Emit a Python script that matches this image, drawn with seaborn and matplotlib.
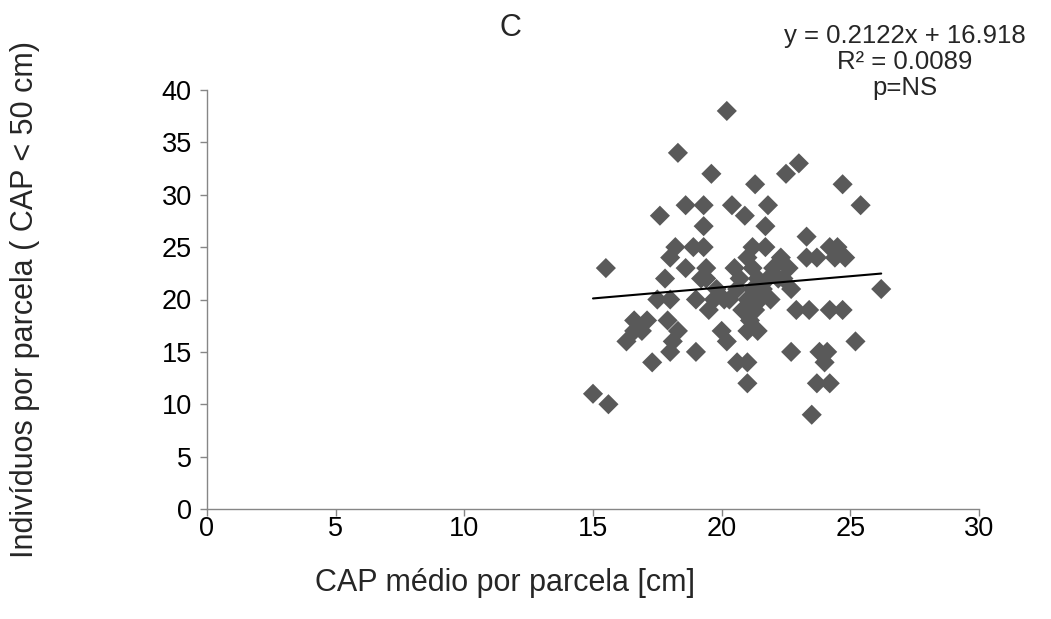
import matplotlib
matplotlib.use("Agg")
import matplotlib.pyplot as plt
import seaborn as sns
import numpy as np
import pandas as pd

cap_medio = [15.0, 15.6, 15.5, 16.3, 16.6, 16.9, 17.1, 17.3, 17.5, 17.6, 17.8, 18.0, 18.1, 17.9, 18.0, 18.0,
             18.3, 18.2, 18.3, 18.6, 18.6, 18.9, 19.0, 19.0, 19.2, 19.3, 19.3, 19.3, 19.4, 19.5, 19.6, 19.7,
             19.4, 20.2, 20.0, 20.2, 20.3, 20.4, 20.5, 20.6, 20.7, 20.9, 21.0, 21.0, 21.0, 21.0, 21.2, 21.2,
             21.3, 21.4, 21.5, 21.5, 21.4, 21.7, 21.7, 21.8, 21.9, 22.2, 22.3, 22.5, 22.6, 22.7, 22.7, 22.9,
             23.0, 23.3, 23.3, 23.4, 23.5, 23.7, 23.8, 23.7, 24.0, 24.1, 24.2, 24.2, 24.2, 24.4, 24.5, 24.7,
             24.7, 24.8, 25.2, 25.4, 26.2,
             20.8, 21.1, 21.0, 21.3, 20.6, 21.6, 21.8, 20.1, 19.8, 21.2, 22.0, 22.4, 16.6]
individuos = [11, 10, 23, 16, 18, 17, 18, 14, 20, 28, 22, 15, 16, 18, 20, 24,
              34, 25, 17, 29, 23, 25, 15, 20, 22, 29, 25, 27, 23, 19, 32, 20,
              22, 38, 17, 16, 20, 29, 23, 14, 22, 28, 14, 12, 17, 24, 25, 23,
              31, 17, 20, 21, 22, 27, 25, 29, 20, 22, 24, 32, 23, 15, 21, 19,
              33, 26, 24, 19, 9, 24, 15, 12, 14, 15, 12, 19, 25, 24, 25, 19,
              31, 24, 16, 29, 21,
              19, 18, 20, 19, 21, 21, 22, 20, 21, 21, 23, 22, 17]

slope = 0.2122
intercept = 16.918
r2_text = "R² = 0.0089"
p_text = "p=NS"
x_ticks = [0, 5, 10, 15, 20, 25, 30]
y_ticks = [0, 5, 10, 15, 20, 25, 30, 35, 40]

df = pd.DataFrame({"x": cap_medio, "y": individuos})

sns.set_theme(style="white")
plt.rcParams['font.family'] = ['Liberation Sans', 'DejaVu Sans']

fig = plt.figure(figsize=(10.51, 6.19), dpi=100)
ax = fig.add_axes([207/1051, 1 - 509/619, (979-207)/1051, (509-90)/619])

sns.scatterplot(data=df, x="x", y="y", marker="D", s=105, color="#595959",
                edgecolor="none", linewidth=0, ax=ax, zorder=2)

xl = np.array([min(cap_medio), max(cap_medio)])
sns.lineplot(x=xl, y=slope * xl + intercept, color="black", linewidth=1.5, ax=ax, zorder=3)

ax.set_xlim(0, 30)
ax.set_ylim(0, 40)
ax.set_xticks(x_ticks)
ax.set_yticks(y_ticks)
ax.tick_params(axis="both", labelsize=19.5, colors="#868686", labelcolor="black",
               length=5, width=1, direction="out")
ax.tick_params(axis="x", bottom=True, pad=0)
ax.tick_params(axis="y", left=True, pad=6)
for side in ["top", "right"]:
    ax.spines[side].set_visible(False)
for side in ["left", "bottom"]:
    ax.spines[side].set_color("#868686")
    ax.spines[side].set_linewidth(1)
ax.set_xlabel("")
ax.set_ylabel("")
ax.grid(False)

fig.text(505/1051, 1 - 583/619, "CAP médio por parcela [cm]", ha="center", va="center", fontsize=22)
fig.text(25/1051, 1 - 300/619, "Indivíduos por parcela ( CAP < 50 cm)", ha="center", va="center",
         rotation=90, fontsize=22)
fig.text(510/1051, 1 - 28/619, "C", ha="center", va="center", fontsize=22)
fig.text(905/1051, 1 - 36/619, f"y = {slope}x + {intercept}", ha="center", va="center", fontsize=18.5)
fig.text(905/1051, 1 - 62/619, r2_text, ha="center", va="center", fontsize=18.5)
fig.text(905/1051, 1 - 88/619, p_text, ha="center", va="center", fontsize=18.5)

fig.savefig("out.png", dpi=100)
